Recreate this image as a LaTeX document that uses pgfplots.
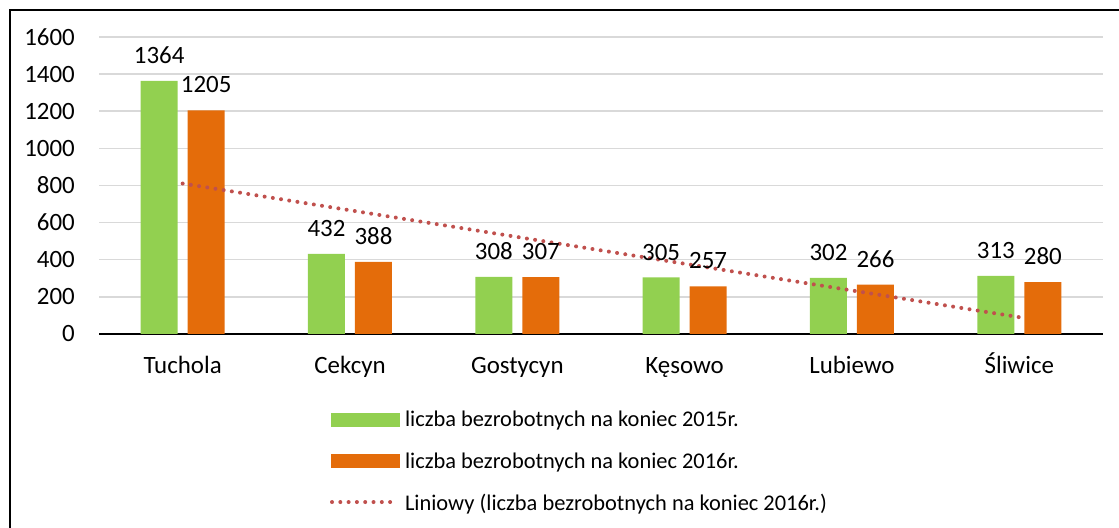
\documentclass[border=0pt]{standalone}
\usepackage{fontspec}
\setmainfont{Carlito}
\usepackage{pgfplots}
\pgfplotsset{compat=1.18}
\definecolor{cgreen}{HTML}{92D050}
\definecolor{corange}{HTML}{E46C0A}
\definecolor{ctrend}{HTML}{C0504D}
\definecolor{cgrid}{HTML}{D9D9D9}
\newcommand\cf{\fontsize{22.5}{27}\selectfont}
\newcommand\tf{\fontsize{25}{30}\selectfont}
\begin{document}
\begin{tikzpicture}[x=1bp,y=1bp]
\useasboundingbox (0,0) rectangle (1119,528);
\draw[line width=1.5bp] (10,0) -- (10,518) -- (1119,518);
\begin{axis}[
  at={(99bp,194bp)}, anchor=south west,
  scale only axis, width=1004bp, height=297bp,
  xmin=-0.5, xmax=5.5, ymin=0, ymax=1600,
  ytick={0,200,...,1600}, xtick={0,1,2,3,4,5},
  xticklabels={Tuchola,Cekcyn,Gostycyn,Kęsowo,Lubiewo,Śliwice},
  axis x line*=bottom, axis y line*=left,
  x axis line style={-, black, line width=1.5bp},
  y axis line style={draw=none},
  major tick length=0pt,
  ymajorgrids, major grid style={cgrid, line width=1.5bp},
  /pgf/number format/.cd, 1000 sep={}, assume math mode=true, /pgfplots/.cd,
  yticklabel style={font=\tf, inner sep=0pt, xshift=-24bp},
  xticklabel style={font=\tf, inner sep=0pt, text height=17bp, text depth=5bp, yshift=-22bp},
  legend cell align=left,
  legend style={at={(axis description cs:0.2301,-0.2592)}, anchor=north west,
    draw=none, fill=none, inner sep=0pt, outer sep=0pt,
    row sep=24.5bp, column sep=5bp,
    nodes={inner sep=0pt, font=\cf}},
]
\addplot[ybar, bar width=37bp, bar shift=-23.5bp, fill=cgreen, draw=none,
  nodes near coords, every node near coord/.append style={font=\tf, anchor=south, inner sep=0pt, yshift=17bp, xshift=-23.5bp, text=black},
  legend image code/.code={\fill[cgreen] (0bp,-7bp) rectangle (69bp,7bp);}]
  coordinates {(0,1364) (1,432) (2,308) (3,305) (4,302) (5,313)};
\addlegendentry{liczba bezrobotnych na koniec 2015r.}
\addplot[ybar, bar width=37bp, bar shift=23.5bp, fill=corange, draw=none,
  nodes near coords, every node near coord/.append style={font=\tf, anchor=south, inner sep=0pt, yshift=17bp, xshift=23.5bp, text=black},
  legend image code/.code={\fill[corange] (0bp,-7bp) rectangle (69bp,7bp);}]
  coordinates {(0,1205) (1,388) (2,307) (3,257) (4,266) (5,280)};
\addlegendentry{liczba bezrobotnych na koniec 2016r.}
\addplot[sharp plot, ctrend, line width=4bp, line cap=round, dash pattern=on 0bp off 8.3bp,
  legend image code/.code={\path[draw=none, fill=none] (0bp,-7bp) rectangle (69bp,7bp);
    \draw[ctrend, line width=4bp, line cap=round, dash pattern=on 0bp off 8.3bp] (1bp,1bp) -- (60bp,1bp);}]
  coordinates {(0,810.6) (5,90.4)};
\addlegendentry{Liniowy (liczba bezrobotnych na koniec 2016r.)}
\end{axis}
\end{tikzpicture}
\end{document}
